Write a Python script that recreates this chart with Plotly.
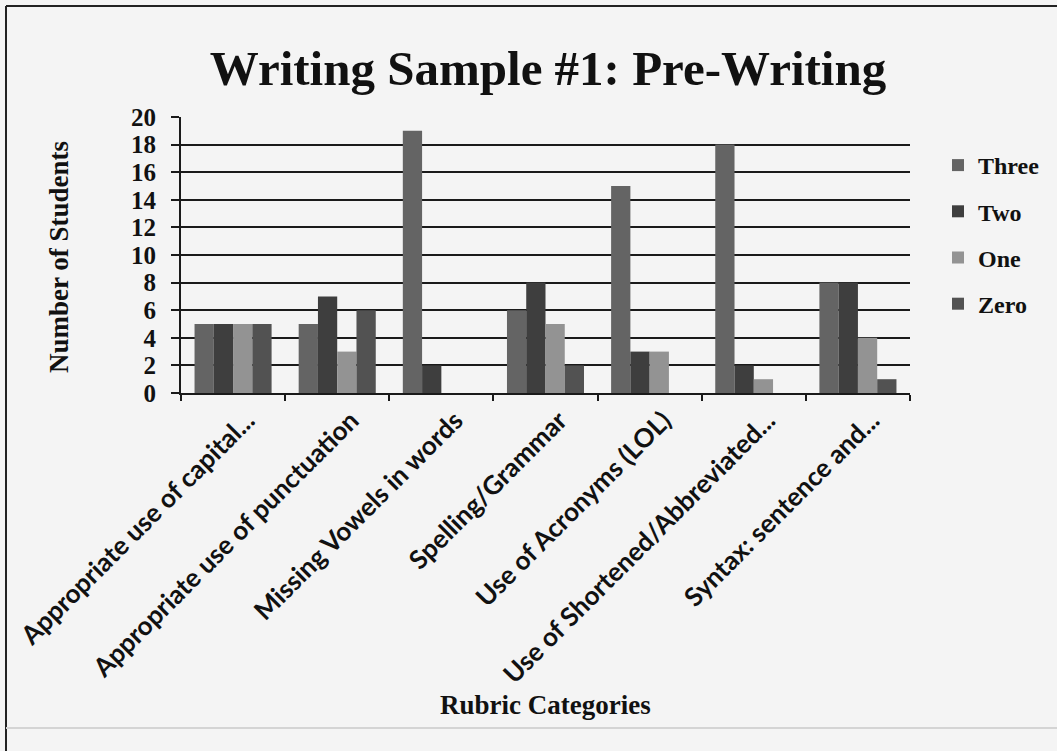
import plotly.graph_objects as go

categories = [
    "Appropriate use of capital...",
    "Appropriate use of punctuation",
    "Missing Vowels in words",
    "Spelling/Grammar",
    "Use of Acronyms (LOL)",
    "Use of Shortened/Abbreviated...",
    "Syntax: sentence and...",
]
three = [5, 5, 19, 6, 15, 18, 8]
two = [5, 7, 2, 8, 3, 2, 8]
one = [5, 3, 0, 5, 3, 1, 4]
zero = [5, 6, 0, 2, 0, 0, 1]

series_names = ["Three", "Two", "One", "Zero"]
series_values = [three, two, one, zero]
series_colors = ["#646464", "#3e3e3e", "#939393", "#525252"]

y_ticks = [0, 2, 4, 6, 8, 10, 12, 14, 16, 18, 20]

W, H = 1057, 751
L, R, T, B = 181, 910, 117, 393

SERIF = "Liberation Serif"
SANS = "Lato"

fig = go.Figure()
for name, vals, col in zip(series_names, series_values, series_colors):
    fig.add_trace(go.Bar(
        x=categories, y=vals, name=name, legendgroup=name,
        marker=dict(color=col, line=dict(width=0)),
    ))

def px(x):
    return (x - L) / (R - L)

def py(y):
    return (B - y) / (B - T)

shapes = [
    dict(type="line", xref="paper", yref="paper", x0=px(6), x1=px(1057), y0=py(6), y1=py(6),
         line=dict(color="#222222", width=2)),
    dict(type="line", xref="paper", yref="paper", x0=px(6), x1=px(6), y0=py(6), y1=py(751),
         line=dict(color="#222222", width=2)),
    dict(type="line", xref="paper", yref="paper", x0=px(6), x1=px(1057), y0=py(728), y1=py(728),
         line=dict(color="#d4d4d4", width=2)),
]

fig.update_layout(
    width=W, height=H,
    margin=dict(l=L, r=W - R, t=T, b=H - B, autoexpand=False),
    paper_bgcolor="#f4f4f4",
    plot_bgcolor="#f4f4f4",
    barmode="group",
    bargap=0.26,
    bargroupgap=0,
    showlegend=True,
    title=dict(
        text="<b>Writing Sample #1: Pre-Writing</b>",
        font=dict(family=SERIF, size=49, color="#111111"),
        x=548 / W, xanchor="center", xref="container",
        y=1 - 68 / H, yanchor="middle", yref="container",
    ),
    legend=dict(
        x=px(938), xanchor="left", y=py(143), yanchor="top",
        font=dict(family=SERIF, size=24, color="#111111", weight="bold"),
        bgcolor="rgba(0,0,0,0)", tracegroupgap=12, itemwidth=30,
        traceorder="grouped",
    ),
    shapes=shapes,
    annotations=[
        dict(text="<b>Number of Students</b>", xref="paper", yref="paper",
             x=px(59), y=py(257), textangle=-90, showarrow=False,
             xanchor="center", yanchor="middle",
             font=dict(family=SERIF, size=27, color="#111111")),
        dict(text="<b>Rubric Categories</b>", xref="paper", yref="paper",
             x=px(545), y=py(705), showarrow=False,
             xanchor="center", yanchor="middle",
             font=dict(family=SERIF, size=27, color="#111111")),
    ],
)

fig.update_yaxes(
    range=[0, 20], tickvals=y_ticks, ticktext=[str(v) for v in y_ticks],
    showgrid=True, gridcolor="#1a1a1a", gridwidth=2,
    showline=True, linecolor="#1a1a1a", linewidth=2,
    ticks="outside", ticklen=8, tickwidth=2, tickcolor="#1a1a1a",
    tickfont=dict(family=SERIF, size=25, color="#111111", weight="bold"),
    ticklabelstandoff=10,
    zeroline=False, fixedrange=True,
)
fig.update_xaxes(
    showgrid=False, showline=True, linecolor="#1a1a1a", linewidth=2,
    ticks="outside", tickson="boundaries", ticklen=6, tickwidth=2, tickcolor="#1a1a1a",
    tickangle=-45,
    tickfont=dict(family=SANS, size=26, color="#111111", weight="bold"),
    ticklabelshift=14, ticklabelstandoff=0,
    fixedrange=True,
)

fig.write_html("out.html")
